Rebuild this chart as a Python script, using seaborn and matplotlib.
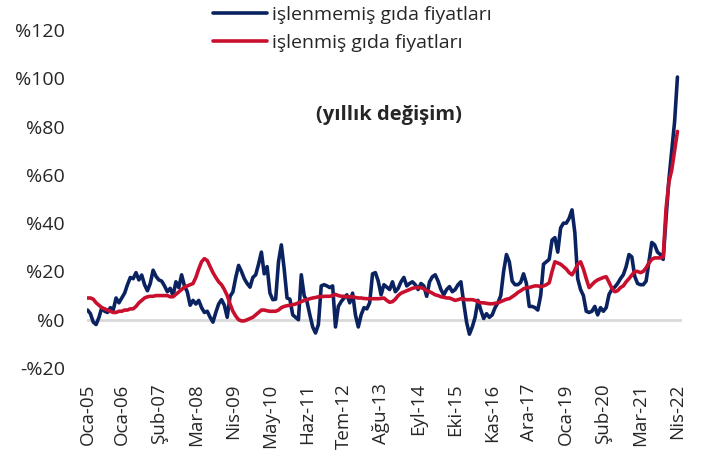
import numpy as np
import pandas as pd
import seaborn as sns
import matplotlib.pyplot as plt

# aylar: Oca-05 ... Nis-22 (aylık)
ay_adlari = ['Oca', 'Şub', 'Mar', 'Nis', 'May', 'Haz', 'Tem', 'Ağu', 'Eyl', 'Eki', 'Kas', 'Ara']
yillar = list(range(2005, 2023))
aylar = [f"{a}-{str(y)[2:]}" for y in yillar for a in ay_adlari][:208]

# işlenmemiş gıda fiyatları, yıllık % değişim
islenmemis = [
    4, 2.5, -1, -2, 1, 5, 3.5, 3, 5, 4, 9, 7,                    # 2005
    9, 11, 14.5, 17.5, 17, 19.5, 16.5, 18.5, 14.5, 12, 15, 20.5,  # 2006
    18, 16.5, 16, 14, 11.6, 13, 10, 15.7, 13.3, 18.6, 14, 11.5,   # 2007
    6, 8, 6.5, 8, 5, 3, 3.5, 1, -1, 3, 6.5, 8.3,                  # 2008
    6, 1, 9.7, 11.5, 17.5, 22.5, 20, 17, 15, 13.5, 17.5, 18.6,    # 2009
    23, 28, 19, 22, 11, 8.3, 8.5, 24, 31, 21, 9, 8.5,             # 2010
    2, 1, 0, 18.6, 10, 7.5, 2, -3, -5.5, -2, 14, 14.5,            # 2011
    14, 13.3, 14, -3, 5.5, 7.5, 9, 10.3, 7, 11, 2, -3,            # 2012
    2, 5, 4.5, 7, 19, 19.5, 16, 10.3, 14.5, 13.5, 12.5, 15.7,     # 2013
    11.6, 13, 15.7, 17.5, 14, 15, 15.7, 14.5, 12.5, 15, 14, 9.7,  # 2014
    15.7, 17.8, 18.6, 16, 12.5, 10.3, 12.5, 13.7, 11.6, 12.5, 14.5, 15.7,  # 2015
    7, -1, -6, -3, 1, 8, 4, 0.5, 2.5, 1, 2, 5,                    # 2016
    7, 10, 20, 27, 24, 16, 14.5, 14.5, 15.5, 19, 15, 5.5,         # 2017
    5.5, 5, 4, 10, 23, 24, 25, 33, 34, 28, 38, 40,                # 2018
    40, 42, 45.5, 36, 17, 12.5, 10, 3.5, 3, 3.5, 5.5, 2,          # 2019
    5, 3.5, 5, 10.5, 12.5, 13.5, 15, 17, 18.6, 22, 27, 26,        # 2020
    18, 15, 14.5, 14.5, 16, 24, 32, 31, 28, 27, 25, 42,           # 2021
    58, 70, 82, 100.5,                                            # 2022
]

# işlenmiş gıda fiyatları, yıllık % değişim
islenmis = [
    9, 9, 8.5, 7, 6, 5, 4.5, 4, 3.5, 3, 3, 3.5,                   # 2005
    3.5, 4, 4, 4.5, 4.5, 5.5, 7, 8, 9, 9.5, 9.7, 9.7,             # 2006
    10, 10, 10, 10, 10, 9.5, 9.5, 10.5, 11.5, 12.5, 13.5, 14,     # 2007
    14.5, 15, 17.5, 21, 24, 25.3, 24.5, 22, 19.5, 17.5, 15.7, 14.5,  # 2008
    12.5, 10, 6.5, 3.5, 1.5, 0, -0.5, -0.5, 0, 0.5, 1, 2,         # 2009
    3, 4, 4, 3.7, 3.5, 3.5, 3.5, 4, 5, 5.5, 5.8, 6,               # 2010
    6.2, 6.5, 7, 7.5, 8, 8.3, 8.7, 9, 9.2, 9.5, 9.5, 9.7,         # 2011
    9.7, 9.7, 10, 10.5, 10, 9.7, 9.7, 9.5, 9.5, 9.5, 9.2, 9,      # 2012
    9, 8.8, 8.7, 8.7, 8.7, 8.7, 8.7, 8.8, 9, 8, 7.2, 7.5,         # 2013
    8.5, 10, 11, 11.5, 12, 12.5, 13, 13.3, 13.3, 13.3, 12.8, 12,  # 2014
    11.6, 11, 10.3, 10, 9.5, 9.3, 9, 9, 8.5, 8, 8.3, 8.7,         # 2015
    8.5, 8.3, 8.3, 8.3, 8, 7.5, 7, 7, 6.8, 6.6, 6.6, 6.8,         # 2016
    7, 7.5, 8, 8.5, 8.7, 9.5, 10.3, 11.3, 12, 12.8, 13.3, 13.3,   # 2017
    13.7, 14, 14, 13.7, 14, 14.5, 15.3, 20, 24, 23.5, 23, 22,     # 2018
    21, 19.5, 18.6, 20.5, 23, 24, 21, 17, 13.3, 14.5, 15.7, 16.5, # 2019
    17, 17.5, 17.8, 15.5, 13, 11.6, 12, 13.3, 14, 15.7, 17, 18.5, # 2020
    20, 20, 19.5, 20, 21.5, 23.5, 25, 25.6, 25.6, 25.6, 26, 46,   # 2021
    57, 62, 70, 78,                                               # 2022
]

seri_adlari = ['işlenmemiş gıda fiyatları', 'işlenmiş gıda fiyatları']
renkler = ['#0a2360', '#c8102e']

tick_etiketleri = ['Oca-05', 'Oca-06', 'Şub-07', 'Mar-08', 'Nis-09', 'May-10', 'Haz-11',
                   'Tem-12', 'Ağu-13', 'Eyl-14', 'Eki-15', 'Kas-16', 'Ara-17', 'Oca-19',
                   'Şub-20', 'Mar-21', 'Nis-22']
y_degerleri = [-20, 0, 20, 40, 60, 80, 100, 120]

df = pd.DataFrame({
    't': list(range(len(aylar))) * 2,
    'deger': islenmemis + islenmis,
    'seri': [seri_adlari[0]] * len(aylar) + [seri_adlari[1]] * len(aylar),
})

sns.set_style("white")
plt.rcParams['font.family'] = ['Open Sans', 'DejaVu Sans']

W, H = 703, 459
fig = plt.figure(figsize=(W / 100, H / 100), dpi=100)
ax = fig.add_axes([87 / W, 1 - 368 / H, (682 - 87) / W, (368 - 30) / H])

ax.axhline(0, color='#d9d9d9', lw=2, zorder=0)
sns.lineplot(data=df, x='t', y='deger', hue='seri', hue_order=seri_adlari,
             palette=renkler, linewidth=2.6, ax=ax, legend=False)

ax.set_xlim(-0.2, 208.6)
ax.set_ylim(-20, 120)
ax.set_yticks(y_degerleri)
ax.set_yticklabels([f"-%{abs(v)}" if v < 0 else f"%{v}" for v in y_degerleri])
ax.set_xticks([aylar.index(e) for e in tick_etiketleri])
ax.set_xticklabels(tick_etiketleri, rotation=90)
ax.tick_params(axis='y', length=0, labelsize=14, pad=16)
ax.tick_params(axis='x', length=0, labelsize=13.5, pad=11)
ax.set_xlabel('')
ax.set_ylabel('')
for s in ax.spines.values():
    s.set_visible(False)

fig.text(389 / W, 1 - 115 / H, '(yıllık değişim)', ha='center', va='center',
         fontsize=14.5, fontweight='bold')

fig.legend(ax.get_lines()[1:3], seri_adlari, loc='upper left',
           bbox_to_anchor=(213 / W, 1 - 6 / H), frameon=False, fontsize=14,
           handlelength=2.8, handletextpad=0.25, labelspacing=0.5,
           borderpad=0, borderaxespad=0)

fig.savefig('out.png', dpi=100)
